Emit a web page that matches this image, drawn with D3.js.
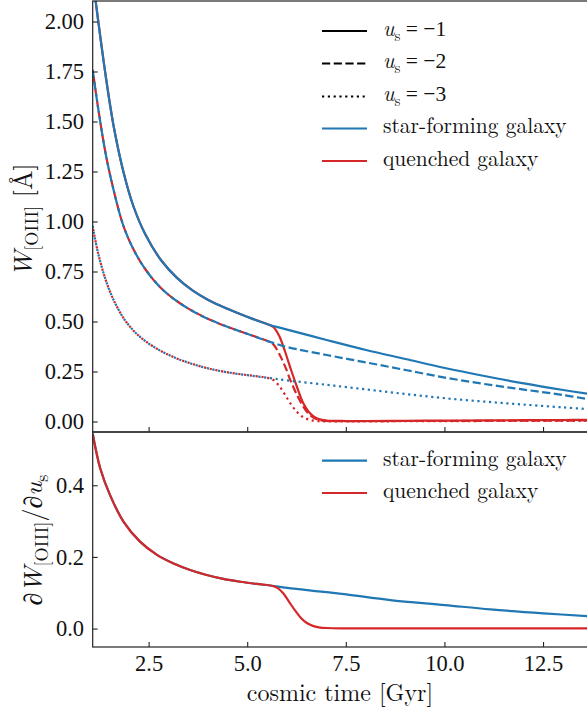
<!DOCTYPE html>
<html>
<head>
<meta charset="utf-8">
<script src="https://cdn.jsdelivr.net/npm/d3@7"></script>
<style>
  body { margin: 0; background: #fff; }
</style>
</head>
<body>
<div id="chart"></div>
<script>
const WIDTH = 587;
const HEIGHT = 712;

// cosmic time grid [Gyr] for the star-forming curves
const timeSF = [1.07, 1.2, 1.4, 1.6, 1.85, 2.1, 2.4, 2.8, 3.2, 3.6, 4.0, 4.5, 5.0, 5.5, 6.0, 7.0, 8.0, 9.0, 10.0, 11.0, 12.0, 13.0, 13.65];
const wSF1 = [2.22, 2.02, 1.73, 1.48, 1.25, 1.08, 0.94, 0.81, 0.722, 0.658, 0.61, 0.565, 0.525, 0.489, 0.462, 0.41, 0.36, 0.315, 0.27, 0.23, 0.193, 0.16, 0.14];
const wSF2 = [1.76, 1.58, 1.34, 1.16, 0.98, 0.865, 0.765, 0.67, 0.605, 0.555, 0.515, 0.475, 0.44, 0.405, 0.375, 0.335, 0.298, 0.26, 0.222, 0.19, 0.162, 0.135, 0.113];
const wSF3 = [0.98, 0.85, 0.71, 0.61, 0.52, 0.458, 0.405, 0.355, 0.318, 0.29, 0.268, 0.248, 0.234, 0.221, 0.208, 0.186, 0.163, 0.14, 0.119, 0.102, 0.087, 0.073, 0.064];

// quenched galaxy: same until ~5.5 Gyr, then drops
const timeQ = [1.07, 1.2, 1.4, 1.6, 1.85, 2.1, 2.4, 2.8, 3.2, 3.6, 4.0, 4.5, 5.0, 5.5, 5.65, 5.8, 5.95, 6.1, 6.25, 6.4, 6.55, 6.7, 6.85, 7.0, 7.5, 8.0, 9.0, 10.0, 11.0, 12.0, 13.0, 13.65];
const wQ1 = [2.22, 2.02, 1.73, 1.48, 1.25, 1.08, 0.94, 0.81, 0.722, 0.658, 0.61, 0.565, 0.525, 0.489, 0.475, 0.43, 0.35, 0.26, 0.175, 0.098, 0.05, 0.024, 0.012, 0.007, 0.005, 0.005, 0.006, 0.007, 0.008, 0.009, 0.010, 0.011];
const wQ2 = [1.76, 1.58, 1.34, 1.16, 0.98, 0.865, 0.765, 0.67, 0.605, 0.555, 0.515, 0.475, 0.44, 0.405, 0.388, 0.34, 0.277, 0.20, 0.135, 0.08, 0.04, 0.018, 0.008, 0.005, 0.004, 0.004, 0.005, 0.005, 0.006, 0.007, 0.007, 0.008];
const wQ3 = [0.98, 0.85, 0.71, 0.61, 0.52, 0.458, 0.405, 0.355, 0.318, 0.29, 0.268, 0.248, 0.234, 0.221, 0.21, 0.18, 0.135, 0.088, 0.05, 0.025, 0.012, 0.006, 0.004, 0.003, 0.003, 0.003, 0.004, 0.004, 0.005, 0.005, 0.006, 0.006];

// derivative dW/du_s (bottom panel)
const timeD = [1.07, 1.26, 1.51, 1.85, 2.27, 2.7, 3.12, 3.54, 3.96, 4.38, 4.81, 5.23, 5.61, 6.0, 6.92, 7.5, 8.61, 10.0, 11.15, 12.5, 13.65];
const dSF = [0.545, 0.449, 0.374, 0.30, 0.244, 0.207, 0.183, 0.165, 0.151, 0.14, 0.132, 0.126, 0.121, 0.115, 0.104, 0.097, 0.081, 0.067, 0.055, 0.044, 0.036];
const timeDQ = [1.07, 1.26, 1.51, 1.85, 2.27, 2.7, 3.12, 3.54, 3.96, 4.38, 4.81, 5.23, 5.61, 5.75, 5.9, 6.05, 6.2, 6.35, 6.5, 6.65, 6.8, 7.0, 7.5, 9.0, 11.0, 13.65];
const dQ = [0.545, 0.449, 0.374, 0.30, 0.244, 0.207, 0.183, 0.165, 0.151, 0.14, 0.132, 0.126, 0.121, 0.115, 0.10, 0.076, 0.052, 0.031, 0.017, 0.009, 0.005, 0.003, 0.002, 0.002, 0.002, 0.002];

const xTicks = [2.5, 5.0, 7.5, 10.0, 12.5];
const yTicksTop = [0, 0.25, 0.5, 0.75, 1.0, 1.25, 1.5, 1.75, 2.0];
const yTicksBot = [0, 0.2, 0.4];

const usLabels = ["\u22121", "\u22122", "\u22123"];
const galaxyLabels = ["star-forming galaxy", "quenched galaxy"];

const BLUE = "#1f77b4";
const RED = "#d62728";
const LW = 2.2;
const dashes = [null, "8.2,3.5", "2.2,3.6"];
const FONT = '"Latin Modern Roman", "Liberation Serif", serif';
// the digits come out sans with Latin Modern here, so numbers use a Times face
const NUMFONT = '"Liberation Serif", "Tinos", serif';

const svg = d3.select("#chart").append("svg")
  .attr("width", WIDTH)
  .attr("height", HEIGHT)
  .style("font-family", FONT);

const x = d3.scaleLinear().domain([1.07, 13.64]).range([92.7, 588.5]);
const yTop = d3.scaleLinear().domain([-0.05, 2.105]).range([432, 1]);
const yBot = d3.scaleLinear().domain([-0.05, 0.55]).range([647, 432]);

// clip paths
const defs = svg.append("defs");
defs.append("clipPath").attr("id", "clipTop").append("rect")
  .attr("x", 92.7).attr("y", 1).attr("width", 588.5 - 92.7).attr("height", 431);
defs.append("clipPath").attr("id", "clipBot").append("rect")
  .attr("x", 92.7).attr("y", 432).attr("width", 588.5 - 92.7).attr("height", 215);

function drawLine(g, xs, ys, yScale, color, dash, offset) {
  const line = d3.line()
    .x(d => x(d[0]))
    .y(d => yScale(d[1]))
    .curve(d3.curveCatmullRom.alpha(0.5));
  const p = g.append("path")
    .datum(d3.zip(xs, ys))
    .attr("d", line)
    .attr("fill", "none")
    .attr("stroke", color)
    .attr("stroke-width", LW)
    .attr("stroke-linejoin", "round");
  if (dash) p.attr("stroke-dasharray", dash).attr("stroke-dashoffset", offset || 0);
  return p;
}

// ---- top panel curves
const gTop = svg.append("g").attr("clip-path", "url(#clipTop)");
const qSeries = [wQ1, wQ2, wQ3];
const sfSeries = [wSF1, wSF2, wSF3];
for (let i = 0; i < 3; i++) {
  drawLine(gTop, timeQ, qSeries[i], yTop, RED, dashes[i], i === 1 ? 5 : 2.8);
  drawLine(gTop, timeSF, sfSeries[i], yTop, BLUE, dashes[i], 0);
}

// ---- bottom panel curves
const gBot = svg.append("g").attr("clip-path", "url(#clipBot)");
drawLine(gBot, timeD, dSF, yBot, BLUE, null);
drawLine(gBot, timeDQ, dQ, yBot, RED, null);

// ---- frames and ticks
const SPINE = "#222";
function frame(y0, y1) {
  svg.append("rect")
    .attr("x", 92.7).attr("y", y0)
    .attr("width", 588.5 - 92.7).attr("height", y1 - y0)
    .attr("fill", "none").attr("stroke", SPINE).attr("stroke-width", 1.2);
}
frame(1, 432);
frame(432, 647);

function ticks(yScale, yTicks, fmt, xLabels) {
  const [bottom] = yScale.range();
  svg.append("g").selectAll("line")
    .data(xTicks).join("line")
    .attr("x1", d => x(d)).attr("x2", d => x(d))
    .attr("y1", bottom).attr("y2", bottom - 5)
    .attr("stroke", SPINE).attr("stroke-width", 1.1);
  svg.append("g").selectAll("line")
    .data(yTicks).join("line")
    .attr("x1", 92.7).attr("x2", 97.7)
    .attr("y1", d => yScale(d)).attr("y2", d => yScale(d))
    .attr("stroke", SPINE).attr("stroke-width", 1.1);
  yTicks.forEach(v => {
    svg.append("text")
      .attr("x", 84)
      .attr("y", yScale(v) + 7.3)
      .attr("text-anchor", "end")
      .attr("fill", "#111")
      .style("font-family", NUMFONT)
      .style("font-size", "22.5px")
      .text(fmt(v));
  });
  if (xLabels) {
    xTicks.forEach(v => {
      svg.append("text")
        .attr("x", x(v))
        .attr("y", 671)
        .attr("text-anchor", "middle")
        .attr("fill", "#111")
        .style("font-family", NUMFONT)
        .style("font-size", "22.5px")
        .text(v.toFixed(1));
    });
  }
}
ticks(yTop, yTicksTop, d => d.toFixed(2), false);
ticks(yBot, yTicksBot, d => d.toFixed(1), true);

// ---- axis labels
svg.append("text")
  .attr("x", 340)
  .attr("y", 701)
  .attr("text-anchor", "middle")
  .attr("fill", "#111")
  .style("font-size", "24px")
  .text("cosmic time [Gyr]");

// math-like label: parts with italic / subscript / number font
function mathText(t, parts, size) {
  let shifted = 0;
  parts.forEach(p => {
    const ts = t.append("tspan").text(p.t);
    if (p.it) ts.style("font-style", "italic");
    if (p.num) ts.style("font-family", NUMFONT);
    const target = p.sub ? size * 0.22 : 0;
    if (target !== shifted) { ts.attr("dy", target - shifted); shifted = target; }
    ts.style("font-size", (p.sub ? size * 0.7 : size) + "px");
  });
}

const yl1 = svg.append("text")
  .attr("transform", "translate(32,220) rotate(-90)")
  .attr("text-anchor", "middle")
  .attr("fill", "#111");
mathText(yl1, [
  { t: "W", it: true },
  { t: "[OIII]", sub: true },
  { t: " [\u00C5]" }
], 26);

const yl2 = svg.append("text")
  .attr("transform", "translate(42,540) rotate(-90)")
  .attr("text-anchor", "middle")
  .attr("fill", "#111");
mathText(yl2, [
  { t: "\u2202" },
  { t: "W", it: true },
  { t: "[OIII]", sub: true },
  { t: "/\u2202" },
  { t: "u", it: true },
  { t: "s", sub: true }
], 26);

// ---- legends
const legTop = svg.append("g");
const rowY = [31, 63.5, 96.5, 128.5, 161];
const legendRows = [
  { kind: "us", i: 0, color: "#000", dash: dashes[0] },
  { kind: "us", i: 1, color: "#000", dash: dashes[1] },
  { kind: "us", i: 2, color: "#000", dash: dashes[2] },
  { kind: "gal", i: 0, color: BLUE, dash: null },
  { kind: "gal", i: 1, color: RED, dash: null }
];
legendRows.forEach((r, k) => {
  const yy = rowY[k];
  const ln = legTop.append("line")
    .attr("x1", 322).attr("x2", 367)
    .attr("y1", yy).attr("y2", yy)
    .attr("stroke", r.color).attr("stroke-width", LW);
  if (r.dash) ln.attr("stroke-dasharray", r.dash);
  const t = legTop.append("text")
    .attr("x", 383).attr("y", yy).attr("dy", "0.23em")
    .attr("fill", "#111")
    .style("font-size", "21.5px");
  if (r.kind === "us") {
    mathText(t, [
      { t: "u", it: true },
      { t: "s", sub: true },
      { t: " = " + usLabels[r.i], num: true }
    ], 21.5);
  } else {
    t.text(galaxyLabels[r.i]);
  }
});

const legBot = svg.append("g");
const rowYBot = [460.7, 493];
[BLUE, RED].forEach((c, k) => {
  legBot.append("line")
    .attr("x1", 322).attr("x2", 367)
    .attr("y1", rowYBot[k]).attr("y2", rowYBot[k])
    .attr("stroke", c).attr("stroke-width", LW);
  legBot.append("text")
    .attr("x", 383).attr("y", rowYBot[k]).attr("dy", "0.23em")
    .attr("fill", "#111")
    .style("font-size", "21.5px")
    .text(galaxyLabels[k]);
});
</script>
</body>
</html>
